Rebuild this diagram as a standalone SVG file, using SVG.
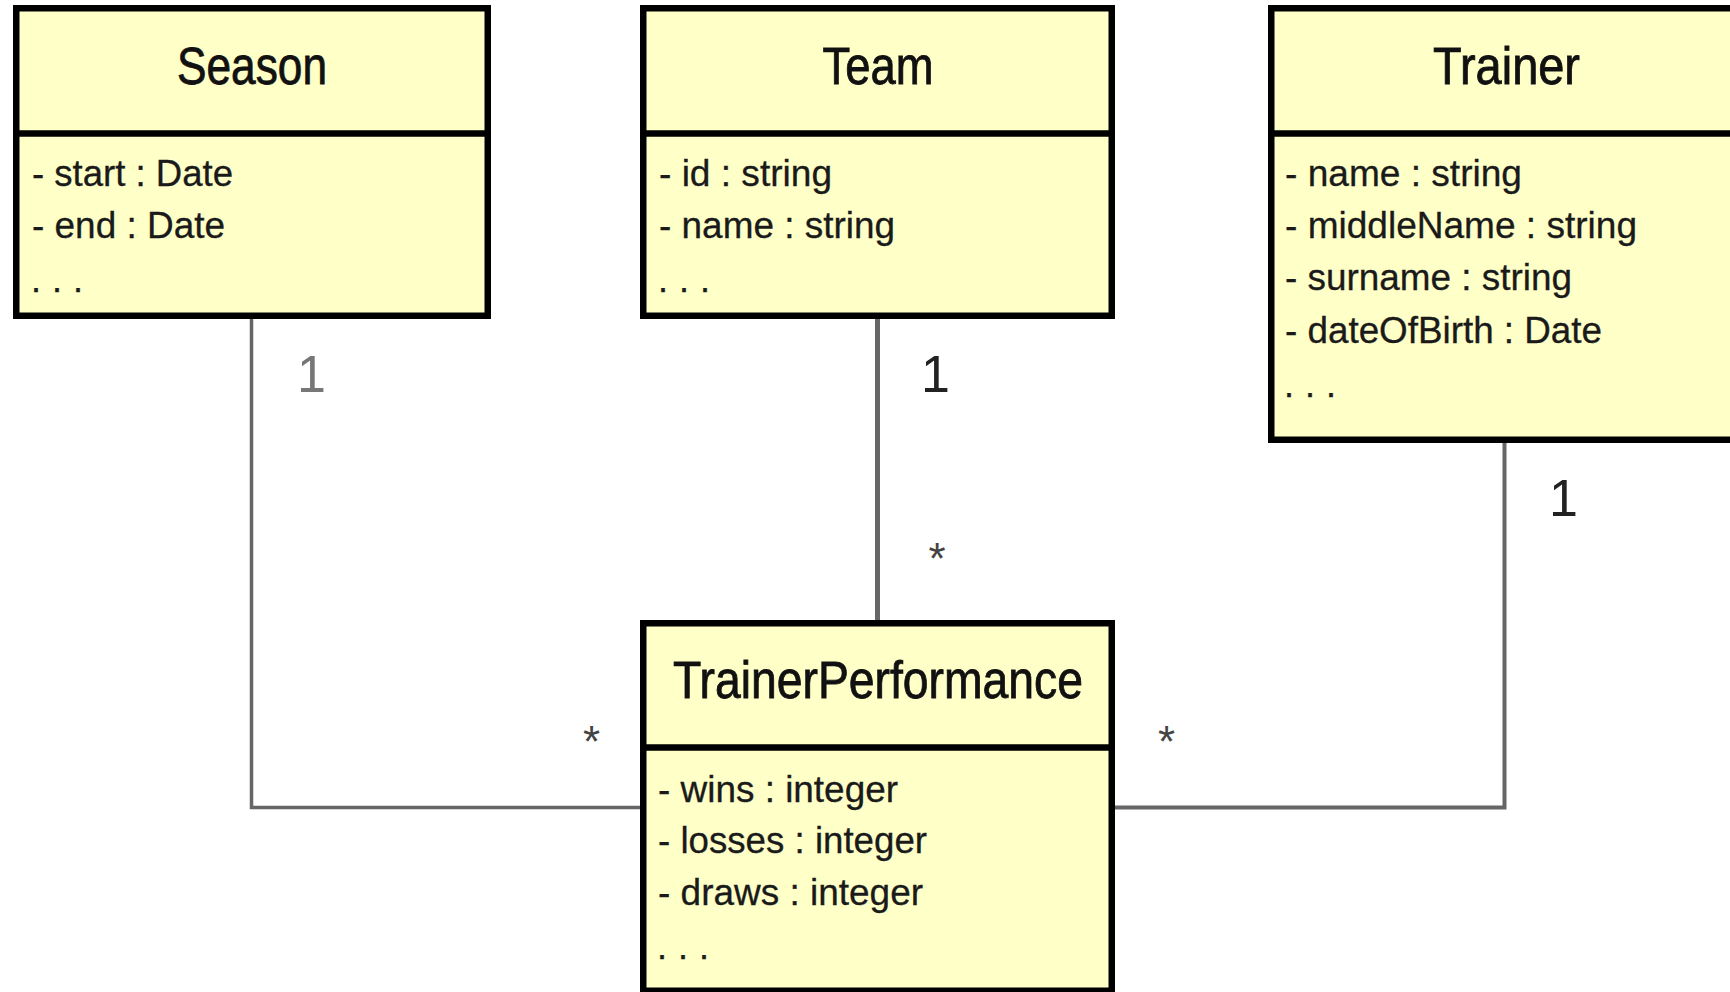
<svg xmlns="http://www.w3.org/2000/svg" width="1730" height="992" viewBox="0 0 1730 992">
  <style>
    .box { fill: #FFFFC8; stroke: #000; stroke-width: 6.5; }
    .div { stroke: #000; stroke-width: 6.5; }
    .title { font-family: "Liberation Sans", Arial, sans-serif; font-size: 51px; fill: #111; stroke: #111; stroke-width: 0.8; text-anchor: middle; }
    .attr { font-family: "Liberation Sans", Arial, sans-serif; font-size: 36px; fill: #1a1a1a; stroke: #1a1a1a; stroke-width: 0.3; }
    .conn { fill: none; stroke: #666; stroke-linejoin: miter; }
    .one { font-family: "Liberation Sans", Arial, sans-serif; font-size: 52px; }
    .many { font-family: "Liberation Sans", Arial, sans-serif; font-size: 44px; fill: #444; text-anchor: middle; }
  </style>
  <rect width="1730" height="992" fill="#fff"/>

  <!-- associations -->
  <g id="connectors">
    <path class="conn" stroke-width="3.5" d="M251.5 319 V807.5 H643"/>
    <path class="conn" stroke-width="5" d="M877.5 319 V623"/>
    <path class="conn" stroke-width="4" d="M1504.5 443 V807.5 H1112"/>
    <text class="one" x="297" y="392" fill="#777">1</text>
    <text class="many" x="591.5" y="757">*</text>
    <text class="one" x="921" y="392" fill="#222">1</text>
    <text class="many" x="937" y="574">*</text>
    <text class="one" x="1549" y="516" fill="#222">1</text>
    <text class="many" x="1166.5" y="757">*</text>
  </g>

  <g id="season">
    <rect class="box" x="16.25" y="8.25" width="471.5" height="307.5"/>
    <line class="div" x1="13" y1="133.5" x2="491" y2="133.5"/>
    <text class="title" x="252" y="84" textLength="150" lengthAdjust="spacingAndGlyphs">Season</text>
    <text class="attr" x="32" y="186" textLength="201" lengthAdjust="spacingAndGlyphs">- start : Date</text>
    <text class="attr" x="32" y="238" textLength="193" lengthAdjust="spacingAndGlyphs">- end : Date</text>
    <text class="attr" x="31" y="292" textLength="52" lengthAdjust="spacing">. . .</text>
  </g>

  <g id="team">
    <rect class="box" x="643.25" y="8.25" width="468.5" height="307.5"/>
    <line class="div" x1="640" y1="133.5" x2="1115" y2="133.5"/>
    <text class="title" x="878" y="84" textLength="111" lengthAdjust="spacingAndGlyphs">Team</text>
    <text class="attr" x="659" y="186" textLength="173" lengthAdjust="spacingAndGlyphs">- id : string</text>
    <text class="attr" x="659" y="238" textLength="236" lengthAdjust="spacingAndGlyphs">- name : string</text>
    <text class="attr" x="658" y="292" textLength="52" lengthAdjust="spacing">. . .</text>
  </g>

  <g id="trainer">
    <rect class="box" x="1271.25" y="8.25" width="500" height="431.5"/>
    <line class="div" x1="1268" y1="133.5" x2="1730" y2="133.5"/>
    <text class="title" x="1506.5" y="84" textLength="147" lengthAdjust="spacingAndGlyphs">Trainer</text>
    <text class="attr" x="1285" y="186" textLength="237" lengthAdjust="spacingAndGlyphs">- name : string</text>
    <text class="attr" x="1285" y="238" textLength="352" lengthAdjust="spacingAndGlyphs">- middleName : string</text>
    <text class="attr" x="1285" y="290" textLength="287" lengthAdjust="spacingAndGlyphs">- surname : string</text>
    <text class="attr" x="1285" y="343" textLength="317" lengthAdjust="spacingAndGlyphs">- dateOfBirth : Date</text>
    <text class="attr" x="1284" y="397" textLength="52" lengthAdjust="spacing">. . .</text>
  </g>

  <g id="trainer-performance">
    <rect class="box" x="643.25" y="623.25" width="468.5" height="367.5"/>
    <line class="div" x1="640" y1="747.5" x2="1115" y2="747.5"/>
    <text class="title" x="878" y="698" textLength="410" lengthAdjust="spacingAndGlyphs">TrainerPerformance</text>
    <text class="attr" x="658" y="802" textLength="240" lengthAdjust="spacingAndGlyphs">- wins : integer</text>
    <text class="attr" x="658" y="853" textLength="269" lengthAdjust="spacingAndGlyphs">- losses : integer</text>
    <text class="attr" x="658" y="905" textLength="265" lengthAdjust="spacingAndGlyphs">- draws : integer</text>
    <text class="attr" x="657" y="959" textLength="52" lengthAdjust="spacing">. . .</text>
  </g>
</svg>
